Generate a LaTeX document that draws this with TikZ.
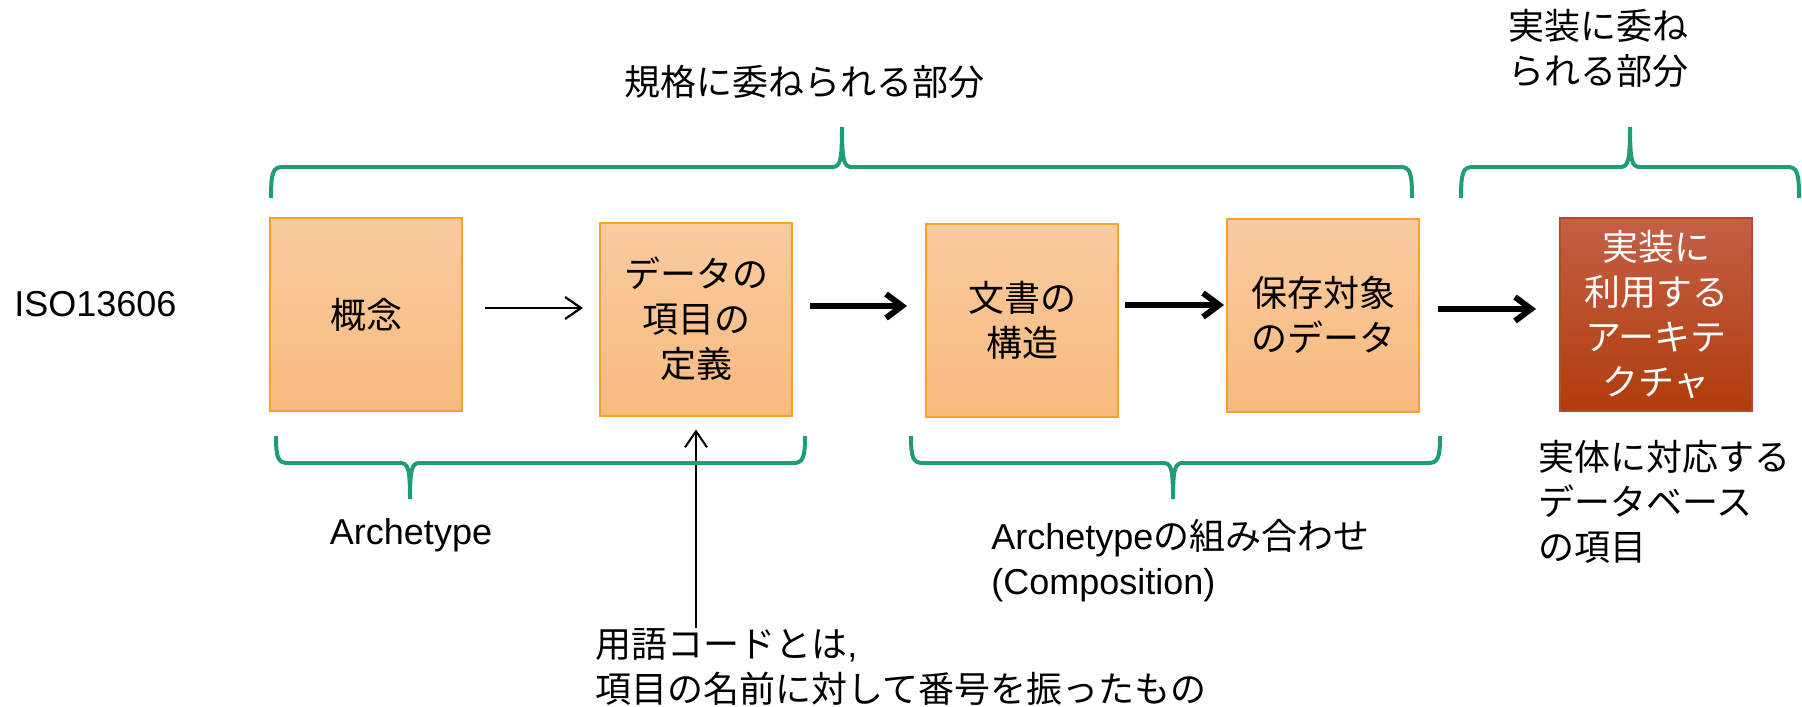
\documentclass[tikz,border=0pt]{standalone}
\usepackage{fontspec}
\setmainfont{Liberation Sans}
\newfontfamily\jp{Noto Sans CJK JP}
\usetikzlibrary{arrows.meta}

\definecolor{boxtop}{RGB}{249,203,159}
\definecolor{boxbot}{RGB}{248,186,126}
\definecolor{boxline}{RGB}{246,162,42}
\definecolor{redtop}{RGB}{196,96,70}
\definecolor{redbot}{RGB}{176,60,12}
\definecolor{redline}{RGB}{184,72,42}
\definecolor{bracegreen}{RGB}{31,157,120}

\tikzset{
  box/.style={draw=boxline, line width=1pt, top color=boxtop, bottom color=boxbot,
    minimum width=96pt, minimum height=96.5pt, inner sep=0pt, align=center,
    font=\jp\fontsize{18}{22.5}\selectfont},
  redbox/.style={box, draw=redline, top color=redtop, bottom color=redbot, text=white},
  txt/.style={inner sep=0pt, align=left, font=\jp\fontsize{18}{22.5}\selectfont},
  brace/.style={draw=bracegreen, line width=2pt},
  thinarr/.style={-{Straight Barb[length=8pt,width=11pt]}, line width=1.1pt},
  thickarr/.style={-{Straight Barb[length=8pt,width=12pt]}, line width=3pt}
}

\begin{document}
\begin{tikzpicture}[x=0.5pt,y=-0.5pt]
  \useasboundingbox (0,0) rectangle (1802,706);

  \node[box] (concept) at (366,314.5) {概念};
  \node[box] (itemdef) at (696,319) {データの\\項目の\\定義};
  \node[box] (docstruct) at (1022,320) {文書の\\構造};
  \node[box] (stored) at (1323,315) {保存対象\\のデータ};
  \node[redbox] (arch) at (1656,314.5) {実装に\\利用する\\アーキテ\\クチャ};

  \node[txt, anchor=west] (iso) at (14,304) {\rmfamily ISO13606};
  \node[txt, align=center] (std) at (804,82) {規格に委ねられる部分};
  \node[txt, anchor=west] (impl) at (1508,48.5) {実装に委ね\\られる部分};
  \node[txt] (archetype) at (411,535) {\rmfamily Archetype};
  \node[txt, anchor=west] (comp) at (991,561)
    {{\rmfamily Archetype}の組み合わせ\\{\rmfamily (Composition)}};
  \node[txt, anchor=west] (note) at (595,666.5)
    {用語コードとは{\rmfamily ,}\\項目の名前に対して番号を振ったもの};
  \node[txt, anchor=west] (dbitem) at (1538,502) {実体に対応する\\データベース\\の項目};

  \draw[thinarr, shorten <=11pt, shorten >=8pt]
    ([yshift=3.25pt]concept.east) -- ([yshift=3.25pt]concept.east -| itemdef.west);
  \draw[thickarr, shorten <=8.5pt, shorten >=9pt]
    ([yshift=6.5pt]itemdef.east) -- ([yshift=6.5pt]itemdef.east -| docstruct.west);
  \draw[thickarr, shorten <=3pt, shorten >=1pt]
    ([yshift=7.5pt]docstruct.east) -- ([yshift=7.5pt]docstruct.east -| stored.west);
  \draw[thickarr, shorten <=9pt, shorten >=11.5pt]
    ([yshift=3pt]stored.east) -- ([yshift=3pt]stored.east -| arch.west);
  \draw[thinarr, line width=1pt, shorten >=6.5pt]
    (note.north -| itemdef.south) -- (itemdef.south);

  \draw[brace] (271,198) .. controls (271,172) and (273,167) .. (283,167) -- (832,167)
    .. controls (840,167) and (842,162) .. (842,127)
    .. controls (842,162) and (844,167) .. (852,167) -- (1400,167)
    .. controls (1410,167) and (1412,172) .. (1412,198);
  \draw[brace] (1461,198) .. controls (1461,172) and (1463,167) .. (1473,167) -- (1620,167)
    .. controls (1628,167) and (1630,162) .. (1630,127)
    .. controls (1630,162) and (1632,167) .. (1640,167) -- (1787,167)
    .. controls (1797,167) and (1799,172) .. (1799,198);
  \draw[brace] (276,436) .. controls (276,458) and (278,463) .. (288,463) -- (400,463)
    .. controls (408,463) and (410,468) .. (410,499)
    .. controls (410,468) and (412,463) .. (420,463) -- (793,463)
    .. controls (803,463) and (805,458) .. (805,436);
  \draw[brace] (911,436) .. controls (911,458) and (913,463) .. (923,463) -- (1163,463)
    .. controls (1171,463) and (1173,468) .. (1173,499)
    .. controls (1173,468) and (1175,463) .. (1183,463) -- (1428,463)
    .. controls (1438,463) and (1440,458) .. (1440,436);
\end{tikzpicture}
\end{document}
